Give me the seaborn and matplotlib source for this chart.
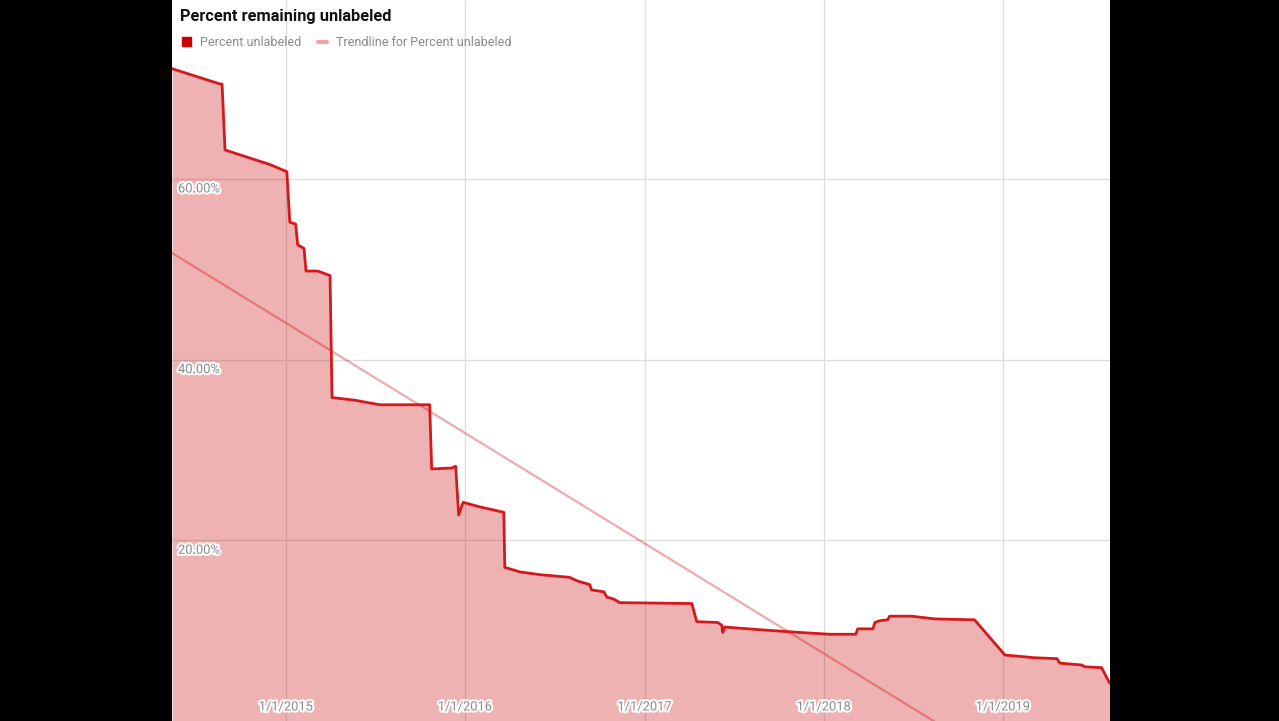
import pandas as pd
import numpy as np
import matplotlib
matplotlib.use("Agg")
import matplotlib.pyplot as plt
import matplotlib.patheffects as pe
from matplotlib.patches import Patch
from matplotlib.lines import Line2D
import seaborn as sns

# =========================
# Data
# =========================
dates = [
    "2014-05-14", "2014-08-20", "2014-08-24", "2014-08-30", "2014-10-20", "2014-11-29",
    "2015-01-03", "2015-01-09", "2015-01-21", "2015-01-25", "2015-02-07", "2015-02-11",
    "2015-03-07", "2015-04-01", "2015-04-05", "2015-05-22", "2015-07-11", "2015-08-21",
    "2015-10-21", "2015-10-25", "2015-12-05", "2015-12-13", "2015-12-19", "2015-12-28",
    "2016-01-31", "2016-03-20", "2016-03-22", "2016-04-22", "2016-06-01", "2016-08-01",
    "2016-08-17", "2016-09-11", "2016-09-15", "2016-10-10", "2016-10-16", "2016-10-30",
    "2016-11-11", "2017-04-07", "2017-04-17", "2017-05-30", "2017-06-07", "2017-06-09",
    "2017-06-13", "2017-08-24", "2017-11-13", "2018-01-13", "2018-03-07", "2018-03-11",
    "2018-04-11", "2018-04-15", "2018-04-25", "2018-05-11", "2018-05-15", "2018-06-29",
    "2018-08-15", "2018-11-04", "2019-01-05", "2019-03-07", "2019-04-21", "2019-04-27",
    "2019-06-10", "2019-06-17", "2019-07-21", "2019-08-06",
]
pct_unlabeled = [
    72.2, 70.5, 70.5, 63.2, 62.3, 61.6,
    60.8, 55.2, 55.0, 52.7, 52.3, 49.8,
    49.8, 49.3, 35.8, 35.5, 35.0, 35.0,
    35.0, 27.9, 28.0, 28.2, 22.8, 24.2,
    23.7, 23.1, 17.0, 16.5, 16.2, 15.9,
    15.5, 15.1, 14.5, 14.3, 13.7, 13.5,
    13.1, 13.0, 11.0, 10.9, 10.6, 9.8,
    10.4, 10.1, 9.8, 9.6, 9.6, 10.2,
    10.2, 10.9, 11.1, 11.2, 11.6, 11.6,
    11.3, 11.2, 7.3, 7.0, 6.9, 6.4,
    6.2, 6.0, 5.9, 4.2,
]

# trendline values at both ends of the visible range
trend_dates = ["2014-05-14", "2019-08-07"]
trend_pct = [51.8, -12.0]

y_ticks = [20, 40, 60]
x_years = [2015, 2016, 2017, 2018, 2019]

df = pd.DataFrame({"Date": pd.to_datetime(dates), "Percent": pct_unlabeled})
trend = pd.DataFrame({"Date": pd.to_datetime(trend_dates), "Percent": trend_pct})

# =========================
# Chart
# =========================
sns.set_theme(style="white")
plt.rcParams["font.family"] = ["Roboto", "DejaVu Sans"]

red = "#cc0000"
fig = plt.figure(figsize=(12.79, 7.21), dpi=100, facecolor="black")
ax = fig.add_axes([172 / 1279, 0, 938 / 1279, 1])
ax.set_facecolor("white")

# grid
grid_color = "#dedede"
for v in y_ticks:
    ax.axhline(v, color=grid_color, lw=1.0, zorder=0)
for yr in x_years:
    ax.axvline(pd.Timestamp(f"{yr}-01-01"), color=grid_color, lw=1.0, zorder=0)

ax.fill_between(df["Date"], df["Percent"], 0, color=red, alpha=0.3, lw=0, zorder=1)
sns.lineplot(data=df, x="Date", y="Percent", color="#d4181c", linewidth=2, ax=ax, zorder=3)
sns.lineplot(data=trend, x="Date", y="Percent", color=red, alpha=0.33, linewidth=1.6, ax=ax, zorder=2)

ax.set_xlim(pd.Timestamp("2014-05-14"), pd.Timestamp("2019-08-07"))
ax.set_ylim(0, 79.8)
ax.set_xticks([])
ax.set_yticks([])
ax.set_xlabel("")
ax.set_ylabel("")
for s in ax.spines.values():
    s.set_visible(False)

halo = [pe.withStroke(linewidth=3, foreground="white")]
label_color = "#8a8a8a"
for v in y_ticks:
    ax.annotate(f"{v:.2f}%", xy=(0, v), xycoords=("axes fraction", "data"),
                xytext=(6, -10), textcoords="offset pixels", ha="left", va="center",
                fontsize=9.3, color=label_color, path_effects=halo)
for yr in x_years:
    ax.annotate(f"1/1/{yr}", xy=(pd.Timestamp(f"{yr}-01-01"), 0),
                xycoords=("data", "axes fraction"), xytext=(0, 14), textcoords="offset pixels",
                ha="center", va="center", fontsize=9.3, color=label_color, path_effects=halo)

# title and legend
ax.text(8 / 938, 1 - 16 / 721, "Percent remaining unlabeled", transform=ax.transAxes,
        ha="left", va="center", fontsize=11.8, fontweight="bold", color="#111111")
handles = [Patch(facecolor=red, edgecolor=red),
           Line2D([0], [0], color=red, alpha=0.35, lw=3)]
leg = ax.legend(handles, ["Percent unlabeled", "Trendline for Percent unlabeled"],
                loc="upper left", bbox_to_anchor=(5 / 938, 1 - 31 / 721), ncol=2, frameon=False,
                fontsize=9, handlelength=0.75, handleheight=0.75, handletextpad=0.7,
                columnspacing=1.3, borderaxespad=0)
for t in leg.get_texts():
    t.set_color("#8a8a8a")

plt.savefig("out.png", dpi=100, facecolor="black")
